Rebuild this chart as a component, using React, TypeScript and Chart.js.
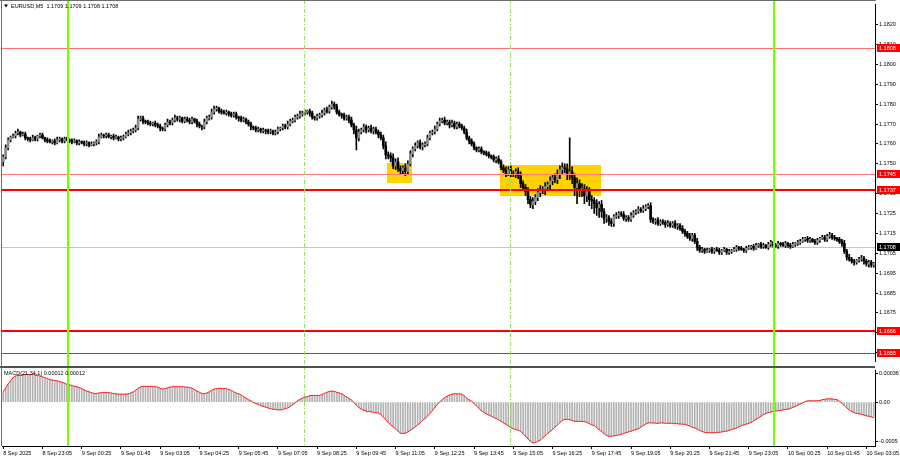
import React, { useEffect, useRef } from "react";
import { Chart, registerables } from "chart.js";

Chart.register(...registerables);

const FONT = "'Liberation Sans', Arial, sans-serif";

// ---------- DATA ----------
const symbolTitle = "EURUSD,M5  1.1709 1.1709 1.1708 1.1708";
const macdTitle = "MACD(21,34,1) 0.00012 0.00012";

const tickBars = [0, 16, 32, 48, 64, 80, 96, 112, 128, 144, 160, 176, 192, 208, 224, 240, 256, 272, 288, 304, 320, 336, 352];
const tickLabels = [
  "8 Sep 2025", "8 Sep 23:05", "9 Sep 00:25", "9 Sep 01:45", "9 Sep 03:05", "9 Sep 04:25",
  "9 Sep 05:45", "9 Sep 07:05", "9 Sep 08:25", "9 Sep 09:45", "9 Sep 11:05", "9 Sep 12:25",
  "9 Sep 13:45", "9 Sep 15:05", "9 Sep 16:25", "9 Sep 17:45", "9 Sep 19:05", "9 Sep 20:25",
  "9 Sep 21:45", "9 Sep 23:05", "10 Sep 00:25", "10 Sep 01:45", "10 Sep 03:05",
];

const firstOpen = 1.1751;
const closes = [
  1.17535, 1.17580, 1.17620, 1.17635, 1.17640, 1.17655, 1.17660, 1.17645, 1.17650, 1.17630,
  1.17625, 1.17620, 1.17630, 1.17625, 1.17640, 1.17645, 1.17630, 1.17620, 1.17615, 1.17610,
  1.17615, 1.17605, 1.17620, 1.17625, 1.17615, 1.17625, 1.17620, 1.17615, 1.17610, 1.17615,
  1.17605, 1.17610, 1.17605, 1.17600, 1.17605, 1.17595, 1.17600, 1.17605, 1.17610, 1.17635,
  1.17645, 1.17640, 1.17645, 1.17635, 1.17640, 1.17630, 1.17635, 1.17625, 1.17630, 1.17635,
  1.17650, 1.17655, 1.17665, 1.17670, 1.17680, 1.17725, 1.17730, 1.17715, 1.17710, 1.17705,
  1.17700, 1.17705, 1.17695, 1.17690, 1.17680, 1.17675, 1.17695, 1.17710, 1.17705, 1.17720,
  1.17730, 1.17725, 1.17730, 1.17715, 1.17725, 1.17720, 1.17710, 1.17725, 1.17715, 1.17700,
  1.17690, 1.17685, 1.17710, 1.17730, 1.17735, 1.17760, 1.17775, 1.17780, 1.17765, 1.17760,
  1.17755, 1.17760, 1.17750, 1.17745, 1.17750, 1.17735, 1.17730, 1.17720, 1.17725, 1.17710,
  1.17700, 1.17685, 1.17680, 1.17670, 1.17675, 1.17665, 1.17670, 1.17665, 1.17660, 1.17665,
  1.17655, 1.17660, 1.17675, 1.17680, 1.17690, 1.17685, 1.17700, 1.17715, 1.17720, 1.17735,
  1.17740, 1.17750, 1.17755, 1.17760, 1.17765, 1.17755, 1.17735, 1.17730, 1.17740, 1.17745,
  1.17755, 1.17770, 1.17765, 1.17785, 1.17800, 1.17790, 1.17760, 1.17750, 1.17745, 1.17730,
  1.17735, 1.17720, 1.17695, 1.17670, 1.17630, 1.17660, 1.17670, 1.17685, 1.17670, 1.17680,
  1.17665, 1.17675, 1.17660, 1.17645, 1.17630, 1.17590, 1.17545, 1.17540, 1.17530, 1.17490,
  1.17510, 1.17475, 1.17465, 1.17480, 1.17460, 1.17500, 1.17550, 1.17575, 1.17590, 1.17605,
  1.17585, 1.17595, 1.17600, 1.17630, 1.17655, 1.17660, 1.17675, 1.17700, 1.17715, 1.17720,
  1.17705, 1.17710, 1.17695, 1.17705, 1.17685, 1.17700, 1.17690, 1.17680, 1.17660, 1.17630,
  1.17615, 1.17600, 1.17580, 1.17570, 1.17575, 1.17560, 1.17555, 1.17550, 1.17540, 1.17535,
  1.17520, 1.17525, 1.17510, 1.17480, 1.17465, 1.17450, 1.17470, 1.17450, 1.17445, 1.17460,
  1.17440, 1.17400, 1.17380, 1.17360, 1.17320, 1.17295, 1.17310, 1.17330, 1.17355, 1.17370,
  1.17365, 1.17385, 1.17395, 1.17415, 1.17430, 1.17420, 1.17445, 1.17470, 1.17480, 1.17475,
  1.17450, 1.17460, 1.17430, 1.17380, 1.17400, 1.17365, 1.17375, 1.17340, 1.17360, 1.17320,
  1.17315, 1.17300, 1.17280, 1.17295, 1.17260, 1.17225, 1.17230, 1.17210, 1.17200, 1.17235,
  1.17240, 1.17250, 1.17245, 1.17225, 1.17230, 1.17220, 1.17240, 1.17255, 1.17260, 1.17270,
  1.17265, 1.17275, 1.17285, 1.17290, 1.17220, 1.17210, 1.17215, 1.17200, 1.17210, 1.17205,
  1.17195, 1.17200, 1.17190, 1.17200, 1.17185, 1.17190, 1.17175, 1.17160, 1.17150, 1.17135,
  1.17125, 1.17140, 1.17110, 1.17080, 1.17065, 1.17070, 1.17060, 1.17065, 1.17070, 1.17060,
  1.17070, 1.17065, 1.17055, 1.17065, 1.17070, 1.17055, 1.17060, 1.17065, 1.17070, 1.17080,
  1.17075, 1.17070, 1.17065, 1.17075, 1.17080, 1.17085, 1.17075, 1.17090, 1.17095, 1.17085,
  1.17090, 1.17080, 1.17095, 1.17105, 1.17090, 1.17085, 1.17100, 1.17095, 1.17090, 1.17100,
  1.17090, 1.17085, 1.17095, 1.17100, 1.17105, 1.17110, 1.17120, 1.17125, 1.17115, 1.17120,
  1.17110, 1.17105, 1.17115, 1.17125, 1.17130, 1.17120, 1.17135, 1.17140, 1.17130, 1.17125,
  1.17120, 1.17110, 1.17100, 1.17060, 1.17030, 1.17020, 1.17010, 1.17005, 1.17015, 1.17020,
  1.17025, 1.17010, 1.16995, 1.17005, 1.16990, 1.17000,
];

// wick lengths beyond the body, in pips
const upWick = [
  1, 1.5, 1, 0.5, 1, 1, 1.5, 0.5, 1, 1, 0.5, 1, 1.5, 1, 0.5, 1, 1, 0.5, 1, 1,
  0.5, 1, 1.5, 1, 0.5, 1, 1, 0.5, 1, 1, 0.5, 1, 0.5, 1, 1, 0.5, 1, 0.5, 1, 1.5,
  1, 0.5, 1, 1, 0.5, 1, 1, 0.5, 1, 1, 1, 1.5, 1, 1, 1.5, 1.5, 1, 1, 0.5, 1,
  1, 0.5, 1, 1, 1, 0.5, 1, 1.5, 1, 1, 1.5, 1, 1, 0.5, 1, 1, 1, 1, 0.5, 1,
  1, 0.5, 1.5, 1, 1, 1.5, 1.5, 1, 0.5, 1, 1, 1, 0.5, 1, 1, 1, 0.5, 1, 1, 0.5,
  1, 1, 0.5, 1, 1, 0.5, 1, 0.5, 1, 1, 0.5, 1, 1, 0.5, 1, 1, 1.5, 1, 1, 1,
  1, 1.5, 1, 1, 0.5, 1, 1, 0.5, 1, 1, 1.5, 1, 1.5, 1, 1.5, 1, 1, 1, 0.5, 1,
  1, 1, 1.5, 1, 2, 1.5, 1, 1.5, 1, 1, 1.5, 1, 1, 1, 1.5, 1.5, 2, 1.5, 1.5, 2,
  1.5, 2, 1.5, 1, 2, 1.5, 1.5, 1, 1.5, 1, 1.5, 1, 1, 1.5, 1, 1, 1.5, 1, 1.5, 1,
  1.5, 1, 1, 1.5, 1, 1, 1, 1, 1, 1.5, 1, 1, 1, 0.5, 1, 1, 0.5, 1, 1, 0.5,
  1, 1, 1.5, 1, 1.5, 2, 1.5, 2, 1.5, 1.5, 2, 2, 1.5, 1.5, 2, 1.5, 2, 1.5, 2, 2,
  1.5, 2, 1.5, 2, 1.5, 2, 2.5, 2, 2.5, 2, 2.5, 17, 2.5, 2, 3, 2, 2.5, 2, 2.5, 2,
  2, 1.5, 2, 1.5, 2, 1.5, 1.5, 1, 1.5, 1, 1.5, 1, 1, 1.5, 1, 1, 1.5, 1, 1, 1.5,
  1, 1.5, 1, 1, 1.5, 1, 1, 1.5, 1, 1, 1, 1.5, 1, 1, 1.5, 1, 1, 1.5, 1, 1,
  1.5, 1, 1, 1.5, 1, 1, 0.5, 1, 0.5, 1, 0.5, 1, 1, 0.5, 1, 0.5, 1, 0.5, 1, 1,
  0.5, 1, 0.5, 1, 1, 0.5, 1, 1, 0.5, 1, 1, 0.5, 1, 1, 0.5, 1, 1, 0.5, 1, 1,
  0.5, 1, 1, 0.5, 1, 1, 1, 0.5, 1, 1, 0.5, 1, 1, 0.5, 1, 1, 1, 1.5, 1, 1,
  0.5, 1, 1, 1.5, 1, 1.5, 1, 1, 0.5, 1, 1.5, 1, 1, 1, 1, 0.5,
];
const downWick = [
  2, 1, 1, 1, 0.5, 1, 1, 1, 0.5, 1, 1, 1, 0.5, 1, 1, 1, 0.5, 1, 1, 0.5,
  1, 1, 0.5, 1, 1, 1, 0.5, 1, 1, 0.5, 1, 1, 0.5, 1, 1, 1, 0.5, 1, 1, 1,
  0.5, 1, 1, 0.5, 1, 1, 0.5, 1, 1, 1, 0.5, 1, 1, 1, 1, 1, 1, 1.5, 1, 1,
  1, 1, 1, 1, 1.5, 1, 1, 1, 1, 1, 1, 1, 1.5, 1, 1, 1, 1, 1, 1, 1.5,
  1, 1.5, 1, 1, 1, 1, 1, 1, 1, 1, 0.5, 1, 1, 1, 1, 1, 1.5, 1, 1, 1,
  1, 1.5, 1, 1, 1, 1, 1, 1.5, 1, 1, 1, 1, 1, 1, 1, 1, 1, 1, 1, 1,
  1, 1, 1, 1, 1, 1.5, 1, 1, 1, 1, 1, 1, 1, 1, 1, 1.5, 1, 1, 1.5, 1,
  1, 1.5, 1, 2, 6, 1.5, 1, 1, 1.5, 1, 1, 1.5, 1, 1.5, 1, 1.5, 2, 1.5, 2, 1.5,
  2, 1.5, 2, 1.5, 2, 1.5, 1, 1.5, 1, 1, 1, 1.5, 1, 1, 1, 1, 1, 1, 1, 1,
  1, 1, 1.5, 1, 1, 1, 1, 1, 1, 1, 1.5, 1, 1, 1, 1, 1, 1, 1, 1, 1,
  1, 1.5, 1, 1, 1, 1.5, 1, 1.5, 1, 1.5, 1.5, 2, 1.5, 2, 2, 1.5, 2, 1.5, 1.5, 2,
  1.5, 2, 1.5, 2, 2, 1.5, 2, 2, 2.5, 2, 3, 3, 3, 4, 8, 3, 3, 4, 3, 3,
  4, 5, 4, 5, 3, 2.5, 2, 2, 1.5, 1.5, 1, 1.5, 1, 1, 1.5, 1, 1, 1, 1, 1,
  1, 1, 1, 1, 1.5, 1, 1.5, 1, 1, 1, 1.5, 1, 1, 1, 1, 1.5, 1, 1, 1.5, 1,
  1, 1.5, 1, 1.5, 1, 1, 1, 0.5, 1, 1, 1, 0.5, 1, 1, 0.5, 1, 1, 1, 0.5, 1,
  1, 0.5, 1, 1, 0.5, 1, 1, 0.5, 1, 1, 1, 0.5, 1, 1, 1, 0.5, 1, 1, 0.5, 1,
  1, 1, 0.5, 1, 1, 1, 0.5, 1, 1, 1, 0.5, 1, 1, 1, 0.5, 1, 1, 1, 1, 1,
  1, 1, 1.5, 1, 1.5, 1, 1, 1.5, 1, 1, 1, 1.5, 1, 1.5, 1, 1,
];

const macd = [
  0.00013, 0.00018, 0.00023, 0.00027, 0.00031, 0.00033, 0.00034, 0.00034, 0.000345, 0.00035,
  0.00035, 0.00035, 0.00035, 0.000345, 0.00034, 0.00033, 0.00032, 0.00031, 0.0003, 0.000285,
  0.00028, 0.000275, 0.00027, 0.00026, 0.00025, 0.00024, 0.000225, 0.00022, 0.00021, 0.0002,
  0.000195, 0.000185, 0.00017, 0.000155, 0.00014, 0.00013, 0.00012, 0.00011, 0.00011, 0.000115,
  0.00012, 0.00012, 0.00012, 0.00012, 0.000115, 0.00011, 0.000105, 0.0001, 0.0001, 0.0001,
  0.0001, 0.000105, 0.000115, 0.00013, 0.00015, 0.000175, 0.00019, 0.0002, 0.0002, 0.0002,
  0.0002, 0.0002, 0.000195, 0.00019, 0.000175, 0.000165, 0.00017, 0.00018, 0.00019, 0.000195,
  0.000195, 0.000195, 0.000195, 0.000195, 0.00019, 0.00019, 0.000185, 0.000175, 0.00016, 0.00014,
  0.000125, 0.00011, 0.000107, 0.000115, 0.00013, 0.00015, 0.000165, 0.00017, 0.000175, 0.000175,
  0.00017, 0.00017, 0.00016, 0.00015, 0.00013, 0.000115, 0.000105, 0.00009, 0.00007, 0.00005,
  0.00003, 0.000015, -0.000005, -0.00002, -0.00003, -0.000045, -0.000055, -0.000065, -0.000075, -0.000085,
  -0.00009, -0.000095, -0.0001, -0.0001, -0.000095, -0.000085, -0.000075, -0.00006, -0.000035, -0.00001,
  0.000015, 0.000035, 0.00005, 0.00006, 0.00007, 0.00008, 0.000085, 0.000085, 0.000085, 0.000085,
  0.000095, 0.00011, 0.000125, 0.000135, 0.00014, 0.000135, 0.000125, 0.000115, 0.000105, 0.000085,
  0.000065, 0.000045, 0.000025, -0.000005, -0.00004, -0.00007, -0.00009, -0.000105, -0.000115, -0.00012,
  -0.000125, -0.00013, -0.000135, -0.00014, -0.00016, -0.00019, -0.000225, -0.00026, -0.00029, -0.000315,
  -0.00034, -0.00037, -0.000395, -0.0004, -0.000395, -0.00038, -0.00036, -0.00034, -0.000315, -0.00029,
  -0.000265, -0.000235, -0.00021, -0.00018, -0.000145, -0.00011, -0.00007, -0.00003, 0, 0.00003,
  0.000055, 0.000075, 0.00009, 0.0001, 0.000105, 0.000105, 0.000105, 0.0001, 0.00008, 0.00005,
  0.00003, 0.00001, -0.00002, -0.00005, -0.00008, -0.00011, -0.00013, -0.00015, -0.000165, -0.00018,
  -0.000195, -0.00021, -0.000225, -0.000245, -0.000265, -0.000285, -0.000305, -0.000325, -0.00034, -0.00035,
  -0.00036, -0.000375, -0.0004, -0.000435, -0.00047, -0.0005, -0.00052, -0.000515, -0.0005, -0.000485,
  -0.000455, -0.00043, -0.0004, -0.000375, -0.00035, -0.00032, -0.00029, -0.00026, -0.000235, -0.00022,
  -0.00022, -0.000225, -0.000235, -0.000245, -0.000245, -0.000245, -0.000245, -0.00025, -0.00026, -0.000275,
  -0.00029, -0.0003, -0.000325, -0.00035, -0.000375, -0.0004, -0.000425, -0.000435, -0.000435, -0.00043,
  -0.000425, -0.00042, -0.00041, -0.0004, -0.00039, -0.00038, -0.00037, -0.00036, -0.00035, -0.00034,
  -0.00032, -0.0003, -0.00028, -0.000265, -0.000265, -0.000265, -0.00027, -0.00027, -0.000265, -0.000265,
  -0.00027, -0.00027, -0.00027, -0.00027, -0.000275, -0.000275, -0.00028, -0.00028, -0.000285, -0.000295,
  -0.000305, -0.00032, -0.00033, -0.000345, -0.00036, -0.000375, -0.000385, -0.00039, -0.00039, -0.00039,
  -0.00039, -0.000385, -0.000385, -0.00038, -0.000375, -0.00037, -0.00036, -0.00035, -0.00034, -0.00033,
  -0.000315, -0.0003, -0.00029, -0.00028, -0.00027, -0.00026, -0.00024, -0.00022, -0.0002, -0.00018,
  -0.00016, -0.000145, -0.000135, -0.000125, -0.00012, -0.000115, -0.00011, -0.000105, -0.0001, -0.000095,
  -0.00009, -0.00008, -0.00007, -0.000055, -0.00004, -0.000025, -0.00001, 0.000005, 0.000015, 0.000017,
  0.000015, 0.000015, 0.000017, 0.00002, 0.00003, 0.000035, 0.00004, 0.00004, 0.00004, 0.000035,
  0.00003, 0.00001, -0.000015, -0.000045, -0.000075, -0.0001, -0.00012, -0.000135, -0.000145, -0.00015,
  -0.000155, -0.000165, -0.000175, -0.00018, -0.00019, -0.0002,
];

const priceMin = 1.16505;
const priceMax = 1.18302;
const priceTicks = [1.182, 1.181, 1.18, 1.179, 1.178, 1.177, 1.176, 1.175, 1.1735, 1.1725, 1.1715, 1.1705, 1.1695, 1.1685, 1.1675, 1.1665, 1.1655];
const levels = [1.1808, 1.1745, 1.1737, 1.1666, 1.1655];
const currentPrice = 1.1708;
const dayLineBars = [27, 315];
const sessionLineBars = [123, 207];
const boxStartBar = [157, 203];
const boxEndBar = [166, 243];
const boxTop = [1.17503, 1.17492];
const boxBottom = [1.174, 1.17334];

const macdMin = -0.000559;
const macdMax = 0.000404;
const macdTicks = [0.00036, 0, -0.0005];
const macdTickLabels = ["0.00036", "0.00", "-0.0005"];

// ---------- STYLES ----------
const levelStyles = [
  { color: "#ff7070", width: 1 },
  { color: "#ff7a7a", width: 1 },
  { color: "#ff0000", width: 2 },
  { color: "#ff0000", width: 2 },
  { color: "#ff1a1a", width: 1 },
];
const DAY_COLOR = "#7cfc00";
const SESSION_COLOR = "#94e05a";
const BOX_COLOR = "#ffd200";
const FRAME_COLOR = "#6e6e6e";

const labels = closes.map((_, i) => String(i));
const opens = closes.map((c, i) => (i === 0 ? firstOpen : closes[i - 1]));
const highs = closes.map((c, i) => Math.max(c, opens[i]) + upWick[i] / 10000);
const lows = closes.map((c, i) => Math.min(c, opens[i]) - downWick[i] / 10000);

function font(size: number) {
  return `${size}px ${FONT}`;
}

function barW(x: any) {
  return x.getPixelForValue(1) - x.getPixelForValue(0);
}

function drawVerticals(chart: any, top: number, bottom: number) {
  const { ctx, scales } = chart;
  const x = scales.x;
  const w = barW(x);
  ctx.save();
  ctx.fillStyle = DAY_COLOR;
  dayLineBars.forEach((b) => {
    const px = Math.round(x.getPixelForValue(b) - w / 2);
    ctx.fillRect(px - 1, top, 2, bottom - top);
  });
  ctx.strokeStyle = SESSION_COLOR;
  ctx.lineWidth = 1;
  ctx.setLineDash([4, 2, 1, 2]);
  sessionLineBars.forEach((b) => {
    const px = Math.round(x.getPixelForValue(b) - w / 2) + 0.5;
    ctx.beginPath();
    ctx.moveTo(px, top);
    ctx.lineTo(px, bottom);
    ctx.stroke();
  });
  ctx.restore();
}

const mainOverlay = {
  id: "mainOverlay",
  beforeDatasetsDraw(chart: any) {
    const { ctx, scales } = chart;
    const { x, y } = scales;
    const w = barW(x);
    ctx.save();
    ctx.fillStyle = BOX_COLOR;
    boxStartBar.forEach((s, i) => {
      const x0 = x.getPixelForValue(s) - w / 2;
      const x1 = x.getPixelForValue(boxEndBar[i]) + w / 2;
      const y0 = y.getPixelForValue(boxTop[i]);
      const y1 = y.getPixelForValue(boxBottom[i]);
      ctx.fillRect(Math.round(x0), Math.round(y0), Math.round(x1 - x0), Math.round(y1 - y0));
    });
    // current price line
    ctx.strokeStyle = "#c4c4c4";
    ctx.lineWidth = 1;
    const cy = Math.round(y.getPixelForValue(currentPrice)) + 0.5;
    ctx.beginPath();
    ctx.moveTo(chart.chartArea.left, cy);
    ctx.lineTo(chart.chartArea.right, cy);
    ctx.stroke();
    ctx.restore();
  },
  afterDatasetsDraw(chart: any) {
    const { ctx, scales, chartArea: a } = chart;
    const y = scales.y;
    ctx.save();
    levels.forEach((lv, i) => {
      const st = levelStyles[i];
      const py = Math.round(y.getPixelForValue(lv));
      ctx.fillStyle = st.color;
      ctx.fillRect(a.left, st.width === 2 ? py - 1 : py, a.right - a.left, st.width);
    });
    ctx.restore();
    drawVerticals(chart, 0, chart.height);
  },
  afterDraw(chart: any) {
    const { ctx, scales, chartArea: a } = chart;
    const y = scales.y;
    ctx.save();
    // frame
    ctx.fillStyle = FRAME_COLOR;
    ctx.fillRect(0, 0, a.right + 1, 1);
    ctx.fillRect(1, 0, 1, chart.height);
    // price label boxes
    ctx.font = font(5.5);
    ctx.textBaseline = "middle";
    ctx.textAlign = "left";
    const boxes = levels.map((v) => ({ v, bg: "#ff0000" })).concat([{ v: currentPrice, bg: "#000000" }]);
    boxes.forEach((b) => {
      const py = Math.round(y.getPixelForValue(b.v));
      ctx.fillStyle = b.bg;
      ctx.fillRect(a.right + 2, py - 4, 900 - a.right - 2, 8);
      ctx.fillStyle = "#ffffff";
      ctx.fillText(b.v.toFixed(4), a.right + 4, py + 0.5);
    });
    // title
    ctx.fillStyle = "#000";
    ctx.beginPath();
    ctx.moveTo(4, 4.5);
    ctx.lineTo(8, 4.5);
    ctx.lineTo(6, 7.5);
    ctx.closePath();
    ctx.fill();
    ctx.fillText(symbolTitle, 11, 6.5);
    ctx.restore();
  },
};

const macdOverlay = {
  id: "macdOverlay",
  afterDatasetsDraw(chart: any) {
    drawVerticals(chart, 0, chart.chartArea.bottom);
  },
  afterDraw(chart: any) {
    const { ctx, chartArea: a } = chart;
    ctx.save();
    ctx.fillStyle = "#505050";
    ctx.fillRect(0, 0, a.right, 2);
    ctx.fillStyle = FRAME_COLOR;
    ctx.fillRect(1, 0, 1, a.bottom);
    ctx.fillStyle = "#000";
    ctx.font = font(5.5);
    ctx.textBaseline = "middle";
    ctx.textAlign = "left";
    ctx.fillText(macdTitle, 4, 7.5);
    ctx.restore();
  },
};

export default function App() {
  const refA = useRef<HTMLCanvasElement>(null);
  const refB = useRef<HTMLCanvasElement>(null);

  useEffect(() => {
    const tickFont = { family: FONT, size: 5.5 };
    const chartA = new Chart(refA.current as HTMLCanvasElement, {
      type: "bar",
      data: {
        labels,
        datasets: [
          {
            data: closes.map((c, i) => [lows[i], highs[i]]),
            backgroundColor: "#000",
            barThickness: 1,
            grouped: false,
            order: 2,
          } as any,
          {
            data: closes.map((c, i) => [opens[i], c]),
            backgroundColor: closes.map((c, i) => (c >= opens[i] ? "#8c8c8c" : "#000000")),
            barThickness: 2,
            minBarLength: 1,
            grouped: false,
            order: 1,
          } as any,
        ],
      },
      options: {
        animation: false,
        responsive: false,
        maintainAspectRatio: false,
        devicePixelRatio: 1,
        layout: { padding: { left: 2, top: 2, right: 0, bottom: 1 } },
        plugins: { legend: { display: false }, tooltip: { enabled: false } },
        events: [],
        scales: {
          x: { type: "category", display: false, offset: true },
          y: {
            position: "right",
            min: priceMin,
            max: priceMax,
            afterBuildTicks: (s: any) => {
              s.ticks = priceTicks.map((v) => ({ value: v }));
            },
            afterFit: (s: any) => {
              s.width = 25;
            },
            ticks: {
              font: tickFont,
              color: "#000",
              padding: 1,
              callback: (v: any) => Number(v).toFixed(4),
            },
            grid: { drawOnChartArea: false, drawTicks: true, tickLength: 3, color: "#000" },
            border: { display: true, color: "#000" },
          },
        },
      } as any,
      plugins: [mainOverlay],
    });

    const chartB = new Chart(refB.current as HTMLCanvasElement, {
      type: "bar",
      data: {
        labels,
        datasets: [
          {
            type: "line",
            data: macd,
            borderColor: "#ff1e1e",
            borderWidth: 1,
            pointRadius: 0,
            tension: 0,
            order: 1,
          } as any,
          {
            type: "bar",
            data: macd,
            backgroundColor: "#b2b2b2",
            barThickness: 1,
            order: 2,
          } as any,
        ],
      },
      options: {
        animation: false,
        responsive: false,
        maintainAspectRatio: false,
        devicePixelRatio: 1,
        layout: { padding: { left: 2, top: 2, right: 0, bottom: 0 } },
        plugins: { legend: { display: false }, tooltip: { enabled: false } },
        events: [],
        scales: {
          x: {
            type: "category",
            offset: true,
            afterFit: (s: any) => {
              s.height = 14;
              s.paddingLeft = 0;
              s.paddingRight = 0;
            },
            ticks: {
              autoSkip: false,
              maxRotation: 0,
              minRotation: 0,
              align: "start",
              padding: 1,
              font: tickFont,
              color: "#000",
              callback: (v: any, i: number) => {
                const k = tickBars.indexOf(i);
                return k >= 0 ? tickLabels[k] : "";
              },
            },
            grid: {
              drawOnChartArea: false,
              offset: false,
              drawTicks: true,
              tickLength: 3,
              color: (ctx: any) => (tickBars.indexOf(ctx.index) >= 0 ? "#000" : "rgba(0,0,0,0)"),
            },
            border: { display: true, color: "#000" },
          },
          y: {
            position: "right",
            min: macdMin,
            max: macdMax,
            afterBuildTicks: (s: any) => {
              s.ticks = macdTicks.map((v) => ({ value: v }));
            },
            afterFit: (s: any) => {
              s.width = 25;
            },
            ticks: {
              font: tickFont,
              color: "#000",
              padding: 1,
              callback: (v: any) => {
                const k = macdTicks.indexOf(v);
                return k >= 0 ? macdTickLabels[k] : "";
              },
            },
            grid: { drawOnChartArea: false, drawTicks: true, tickLength: 3, color: "#000" },
            border: { display: true, color: "#000" },
          },
        },
      } as any,
      plugins: [macdOverlay],
    });

    return () => {
      chartA.destroy();
      chartB.destroy();
    };
  }, []);

  return (
    <div style={{ position: "absolute", left: 0, top: 0, width: 900, height: 460, background: "#fff" }}>
      <canvas ref={refA} width={900} height={366} style={{ position: "absolute", left: 0, top: 0, display: "block" }} />
      <canvas ref={refB} width={900} height={94} style={{ position: "absolute", left: 0, top: 366, display: "block" }} />
    </div>
  );
}
